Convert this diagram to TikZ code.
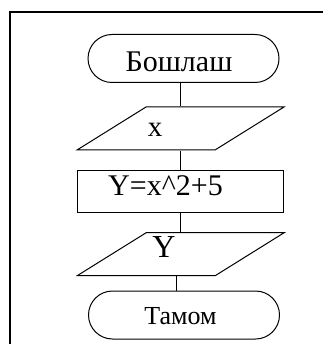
\documentclass[tikz,border=0pt]{standalone}
\usepackage{fontspec}
\setmainfont{Liberation Serif}
\usetikzlibrary{shapes.geometric, shapes.misc}

\begin{document}
\begin{tikzpicture}[
    x=1pt, y=-1pt,
    term/.style={rounded rectangle, draw, line width=1pt, minimum width=191pt, minimum height=48pt, inner sep=0pt},
    io/.style={trapezium, trapezium left angle=45, trapezium right angle=135, trapezium stretches=true, draw, line width=1pt, minimum width=207pt, minimum height=43pt, inner sep=2pt},
    proc/.style={rectangle, draw, line width=1pt, minimum width=206pt, minimum height=41pt, inner sep=0pt},
    txt/.style={anchor=base, inner sep=0pt},
    link/.style={line width=1pt}
]
\useasboundingbox (0,0) rectangle (323,344);

% frame
\draw[line width=2pt] (323,12.5) -- (10,12.5) -- (10,344);

% Define blocks
\node[term] (start) at (183.5,58.5) {};
\node[io] (inp) at (180.5,128.5) {};
\node[proc] (calc) at (180,191.5) {};
\node[io] (outp) at (181,254) {};
\node[term] (stop) at (184,315) {};

% Texts
\node[txt, font=\fontsize{30}{32}\selectfont] (tstart) at (179,72) {Бошлаш};
\node[txt, font=\fontsize{29}{31}\selectfont] (tinp) at (155,137) {x};
\node[txt, font=\fontsize{30}{32}\selectfont] (tcalc) at (165.5,195) {Y=x\^{}2+5};
\node[txt, font=\fontsize{32}{34}\selectfont] (toutp) at (164,257) {Y};
\node[txt, font=\fontsize{26}{28}\selectfont] (tstop) at (180.5,324) {Тамом};

% Define links
\draw[link] (inp.north) -- (inp.north |- start.south);
\draw[link] (inp.south) -- (inp.south |- calc.north);
\draw[link] (calc.south) -- (calc.south |- outp.north);
\draw[link] ([xshift=-5pt]outp.south) -- ([xshift=-5pt]outp.south |- stop.north);

\end{tikzpicture}
\end{document}
